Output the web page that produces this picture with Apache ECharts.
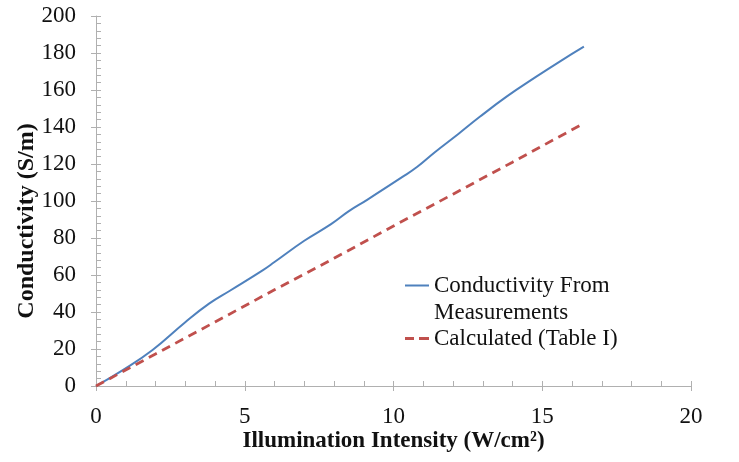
<!DOCTYPE html>
<html>
<head>
<meta charset="utf-8">
<script src="https://cdn.jsdelivr.net/npm/echarts@6/dist/echarts.min.js"></script>
<style>
html,body{margin:0;padding:0;background:#fff;}
#chart{width:739px;height:462px;}
</style>
</head>
<body>
<div id="chart"></div>
<script>
// ---- data ----
var seriesNames = ['Conductivity From Measurements', 'Calculated (Table I)'];
var measuredIntensity = [0, 0.9, 1.9, 3.0, 3.8, 4.5, 5.6, 6.0, 7.0, 7.9, 8.5, 9.1, 10.3, 10.8, 11.4, 12.2, 12.9, 13.8, 14.8, 15.6, 16.4];
var measuredConductivity = [0, 8.6, 19.5, 34.5, 44.5, 51.5, 62.5, 67, 78.5, 87.5, 94.5, 100.5, 113, 118.5, 126.5, 136.5, 145.5, 156.4, 167.2, 175.5, 183.4];
var calcIntensity = [0, 2, 4, 6, 8, 10, 12, 14, 16.4];
var calcConductivity = [0, 17.3, 34.6, 52, 69, 86.5, 103.7, 121, 142];
var xTicks = [0, 5, 10, 15, 20];
var yTicks = [0, 20, 40, 60, 80, 100, 120, 140, 160, 180, 200];

function pairs(xs, ys) { return xs.map(function (x, i) { return [x, ys[i]]; }); }

var serif = '"Liberation Serif", "Times New Roman", serif';
var axisGray = '#b0b0b0';
var blue = '#4f81bd', red = '#c0504d';
var legendText = { fontFamily: serif, fontSize: 23, lineHeight: 27, color: '#111' };
var chart = echarts.init(document.getElementById('chart'));
chart.setOption({
  animation: false,
  backgroundColor: '#fff',
  grid: { left: 96, right: 48, top: 16, bottom: 76, containLabel: false },
  legend: [
    {
      data: [seriesNames[0]],
      icon: 'path://M0,0h24v2h-24zM0,28.99h0.01v0.01h-0.01z',
      orient: 'vertical', left: 405, top: 272, padding: 0,
      itemWidth: 24, itemHeight: 29, itemGap: 0,
      itemStyle: { borderWidth: 0 },
      formatter: function () { return 'Conductivity From\nMeasurements'; },
      textStyle: legendText
    },
    {
      data: [seriesNames[1]],
      icon: 'path://M0,0h9v2.8h-9zM14,0h10v2.8h-10z',
      orient: 'vertical', left: 405, top: 325, padding: 0,
      itemWidth: 24, itemHeight: 14, itemGap: 0,
      itemStyle: { borderWidth: 0 },
      textStyle: legendText
    }
  ],
  xAxis: [
    {
      type: 'value', min: xTicks[0], max: xTicks[xTicks.length - 1], interval: 5,
      name: 'Illumination Intensity (W/cm²)', nameLocation: 'middle', nameGap: 44,
      nameMoveOverlap: false,
      nameTextStyle: { fontFamily: serif, fontSize: 23, fontWeight: 'bold', color: '#111' },
      axisLine: { show: true, lineStyle: { color: axisGray, width: 1 } },
      axisTick: { show: true, inside: false, length: 5, lineStyle: { color: axisGray } },
      axisLabel: { margin: 19, fontFamily: serif, fontSize: 23, color: '#111' },
      splitLine: { show: false }
    },
    {
      type: 'value', position: 'bottom', min: xTicks[0], max: xTicks[xTicks.length - 1], interval: 1,
      axisLine: { show: false },
      axisTick: { show: true, inside: true, length: 5, lineStyle: { color: axisGray } },
      axisLabel: { show: false }, splitLine: { show: false }
    }
  ],
  yAxis: [
    {
      type: 'value', min: yTicks[0], max: yTicks[yTicks.length - 1], interval: 20,
      name: 'Conductivity (S/m)', nameLocation: 'middle', nameGap: 57,
      nameMoveOverlap: false,
      nameTextStyle: { fontFamily: serif, fontSize: 24, fontWeight: 'bold', color: '#111', padding: [0, 40, 0, 0] },
      axisLine: { show: true, lineStyle: { color: axisGray, width: 1 } },
      axisTick: { show: true, inside: false, length: 5, lineStyle: { color: axisGray } },
      axisLabel: { margin: 20, fontFamily: serif, fontSize: 23, color: '#111' },
      splitLine: { show: false }
    },
    {
      type: 'value', position: 'left', min: yTicks[0], max: yTicks[yTicks.length - 1], interval: 4,
      axisLine: { show: false },
      axisTick: { show: true, inside: true, length: 5, lineStyle: { color: axisGray } },
      axisLabel: { show: false }, splitLine: { show: false }
    }
  ],
  series: [
    {
      name: seriesNames[0], type: 'line', xAxisIndex: 0, yAxisIndex: 0,
      data: pairs(measuredIntensity, measuredConductivity),
      smooth: 0.45, symbol: 'none',
      lineStyle: { color: blue, width: 2 }, itemStyle: { color: blue }
    },
    {
      name: seriesNames[1], type: 'line', xAxisIndex: 0, yAxisIndex: 0,
      data: pairs(calcIntensity, calcConductivity),
      smooth: false, symbol: 'none',
      lineStyle: { color: red, width: 2.8, type: [9, 6] }, itemStyle: { color: red }
    }
  ]
});
</script>
</body>
</html>
